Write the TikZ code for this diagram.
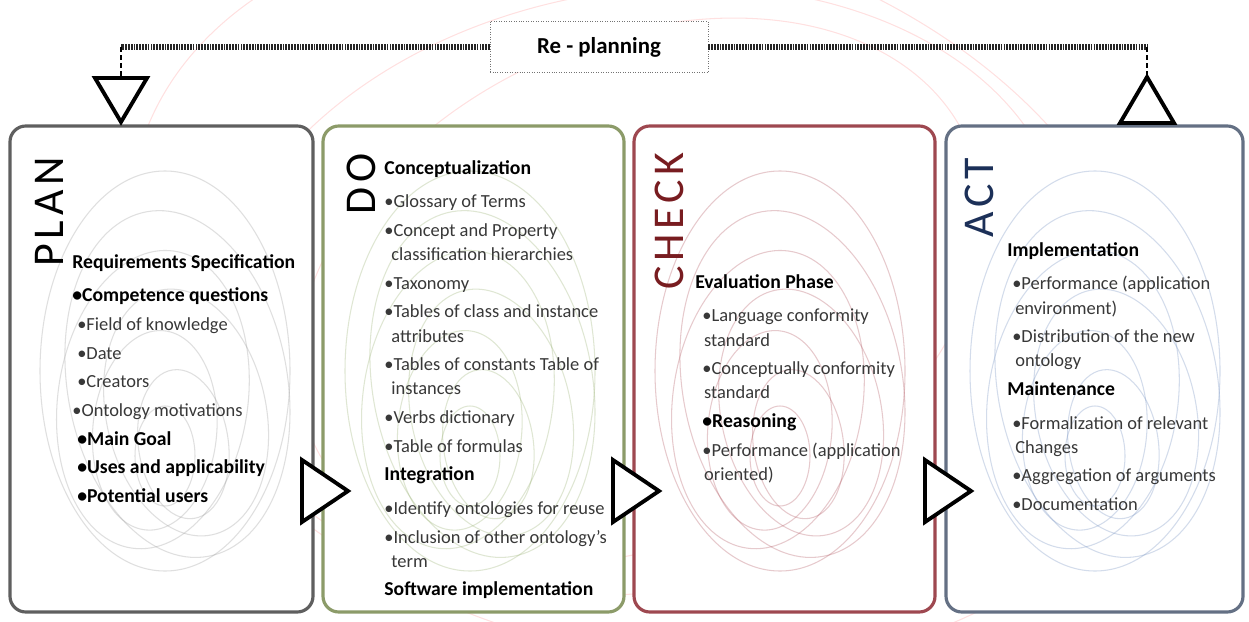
\documentclass[tikz,border=0pt]{standalone}
\usepackage{fontspec}
\setmainfont{Carlito}
\newfontfamily\phasefont[LetterSpace=11]{Carlito}
\usetikzlibrary{positioning}

\definecolor{plancol}{RGB}{95,95,95}
\definecolor{docol}{RGB}{140,155,105}
\definecolor{checkcol}{RGB}{158,72,80}
\definecolor{actcol}{RGB}{100,112,132}
\definecolor{checkletter}{RGB}{120,28,32}
\definecolor{actletter}{RGB}{28,48,88}
\definecolor{plansmoke}{RGB}{150,150,150}
\definecolor{dosmoke}{RGB}{150,175,110}
\definecolor{checksmoke}{RGB}{175,80,90}
\definecolor{actsmoke}{RGB}{110,140,190}

\newcommand{\phead}[1]{{\fontsize{11.2}{13.7}\selectfont\textbf{\color{black}#1}}}

\begin{document}
\begin{tikzpicture}[x=0.2mm, y=0.2mm,
  box/.style={line width=1.8pt, rounded corners=9pt},
  tri/.style={draw=black, line width=2.2pt, fill=white, line join=miter},
  swirl/.style={line width=0.6pt, opacity=0.3},
  bigletter/.style={rotate=90, anchor=base west, inner sep=0pt, font=\phasefont\fontsize{25}{25}\selectfont},
  body/.style={anchor=north west, inner sep=0pt, align=left, text=black!78, font=\fontsize{10.5}{13.7}\selectfont},
  dotline/.style={line width=3pt, dash pattern=on 1pt off 0.6pt, black!85},
  dashline/.style={line width=1.6pt, dash pattern=on 3pt off 1.6pt},
  replanbox/.style={draw=black!55, densely dotted, thin, fill=white, minimum width=124pt, minimum height=29pt, font=\bfseries\fontsize{13}{13}\selectfont}
]
\useasboundingbox (0,0) rectangle (1249,621);

% faint smoke behind the boxes
\foreach \a/\b/\r in {430/300/10, 520/360/-15, 360/250/25}
  \draw[swirl, red!40, rotate around={\r:(640,330)}] (640,330) ellipse [x radius=\a, y radius=\b];

% the four phase boxes
\foreach \x/\w/\c in {10/303/plancol, 323/301/docol, 634/301/checkcol, 946/297/actcol}
  \draw[box, draw=\c, fill=white] (\x,9) rectangle (\x+\w,495);

% smoke inside the boxes
\foreach \cx/\c in {165/plansmoke, 470/dosmoke, 780/checksmoke, 1095/actsmoke}
  \foreach \a/\b/\dx/\dy in {125/200/0/0, 110/175/10/-15, 95/150/-8/-30, 80/125/12/-45, 62/100/-5/-60, 45/75/8/-75, 30/50/0/-85}
    \draw[swirl, \c, rotate around={\dx:(\cx,250)}] (\cx+\dx,250+\dy) ellipse [x radius=\a, y radius=\b];

% phase names
\node[bigletter] (planlbl) at (63,354) {PLAN};
\node[bigletter] (dolbl) at (375,406) {DO};
\node[bigletter, text=checkletter] (checklbl) at (683,331) {CHECK};
\node[bigletter, text=actletter] (actlbl) at (993,383) {ACT};

% phase contents
\node[body] (plantext) at (72,367) {%
  \phead{Requirements Specification}\\[5.5pt]
  \phead{•Competence questions}\\[2.6pt]
  \hspace*{2.8pt}•Field of knowledge\\[2.6pt]
  \hspace*{2.8pt}•Date\\[2.6pt]
  \hspace*{2.8pt}•Creators\\[2.6pt]
  •Ontology motivations\\[2.6pt]
  \hspace*{2.8pt}\phead{•Main Goal}\\[2.6pt]
  \hspace*{2.8pt}\phead{•Uses and applicability}\\[2.6pt]
  \hspace*{2.8pt}\phead{•Potential users}};

\node[body] (dotext) at (384,461) {%
  \phead{Conceptualization}\\[5.5pt]
  •Glossary of Terms\\[2.6pt]
  •Concept and Property\\
  \hspace*{4pt}classification hierarchies\\[2.6pt]
  •Taxonomy\\[2.6pt]
  •Tables of class and instance\\
  \hspace*{4pt}attributes\\[2.6pt]
  •Tables of constants Table of\\
  \hspace*{4pt}instances\\[2.6pt]
  •Verbs dictionary\\[2.6pt]
  •Table of formulas\\[2.6pt]
  \phead{Integration}\\[5.5pt]
  •Identify ontologies for reuse\\[2.6pt]
  •Inclusion of other ontology's\\
  \hspace*{4pt}term\\[2.6pt]
  \phead{Software implementation}};

\node[body] (checktext) at (695,347) {%
  \phead{Evaluation Phase}\\[5.5pt]
  \hspace*{4pt}•Language conformity\\
  \hspace*{5pt}standard\\[2.6pt]
  \hspace*{4pt}•Conceptually conformity\\
  \hspace*{5pt}standard\\[2.6pt]
  \hspace*{4pt}\phead{•Reasoning}\\[2.6pt]
  \hspace*{4pt}•Performance (application\\
  \hspace*{5pt}oriented)};

\node[body] (acttext) at (1007,379) {%
  \phead{Implementation}\\[5.5pt]
  \hspace*{2.8pt}•Performance (application\\
  \hspace*{4.5pt}environment)\\[2.6pt]
  \hspace*{2.8pt}•Distribution of the new\\
  \hspace*{4.5pt}ontology\\[2.6pt]
  \phead{Maintenance}\\[5.5pt]
  \hspace*{2.8pt}•Formalization of relevant\\
  \hspace*{4.5pt}Changes\\[2.6pt]
  \hspace*{2.8pt}•Aggregation of arguments\\[2.6pt]
  \hspace*{2.8pt}•Documentation};

% arrows from one phase to the next
\foreach \x in {302,613,925}
  \draw[tri] (\x,161) -- (\x,99) -- (\x+46,130) -- cycle;

% re-planning loop
\node[replanbox] (replan) at (599,574) {Re - planning};
\coordinate (lbend) at (121,574);
\coordinate (rbend) at (1147,574);
\coordinate (planin) at (121,543);
\coordinate (actout) at (1147,544);
\draw[dotline] (replan.west) -- (lbend);
\draw[dotline] (replan.east) -- (rbend);
\draw[dashline] (lbend) -- (planin);
\draw[dashline] (rbend) -- (actout);
\draw[tri] (95,543) -- (147,543) -- (121,499) -- cycle;
\draw[tri] (1120,498) -- (1174,498) -- (actout) -- cycle;

\end{tikzpicture}
\end{document}
